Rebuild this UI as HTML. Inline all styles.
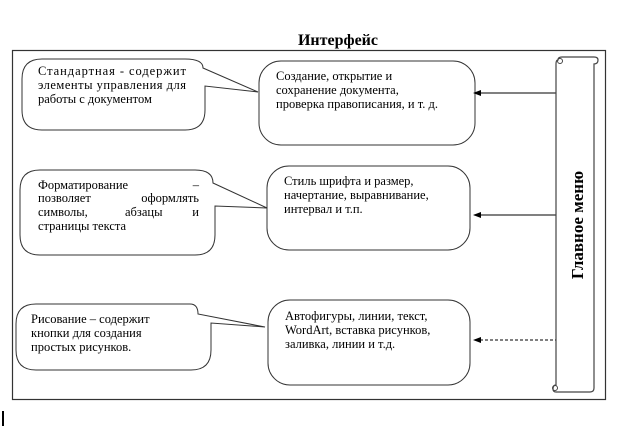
<!DOCTYPE html>
<html><head><meta charset="utf-8"><style>
html,body{margin:0;padding:0;background:#fff;}
svg{display:block;}
text{font-family:"Liberation Serif",serif;font-size:12.5px;fill:#000;}
</style></head><body>
<svg width="624" height="428" viewBox="0 0 624 428">
<defs><marker id="a" markerWidth="8" markerHeight="6" refX="7" refY="3" orient="auto" markerUnits="userSpaceOnUse"><path d="M8,3 L0,0 L0,6 Z" fill="#000"/></marker></defs>
<text x="338" y="45" text-anchor="middle" style="font-size:16px;font-weight:bold">Интерфейс</text>
<rect x="12.5" y="50.5" width="593" height="349" fill="none" stroke="#333" stroke-width="1.2"/>
<!-- callout 1 -->
<path d="M42,59 H185 Q203,59 203,68 L258,92 L205,86 V110 Q205,130 185,130 H42 Q22,130 22,110 V79 Q22,59 42,59 Z" fill="#fff" stroke="#333" stroke-width="1"/>
<text x="38" y="75" textLength="148" lengthAdjust="spacing">Стандартная  -  содержит</text>
<text x="38" y="89" textLength="148" lengthAdjust="spacing">элементы управления для</text>
<text x="38" y="103">работы с документом</text>
<!-- callout 2 -->
<path d="M40,170 H195 Q213,170 213,183 L267,208 L215,206 V235 Q215,255 195,255 H40 Q20,255 20,235 V190 Q20,170 40,170 Z" fill="#fff" stroke="#333" stroke-width="1"/>
<text x="38" y="189">Форматирование</text><text x="199" y="189" text-anchor="end">–</text>
<text x="38" y="202">позволяет</text><text x="199" y="202" text-anchor="end">оформлять</text>
<text x="38" y="216">символы,</text><text x="125" y="216">абзацы</text><text x="199" y="216" text-anchor="end">и</text>
<text x="38" y="230">страницы текста</text>
<!-- callout 3 -->
<path d="M36,304 H190 Q198,304 198,314 L265,327 L211,323 V350 Q211,370 191,370 H36 Q16,370 16,350 V324 Q16,304 36,304 Z" fill="#fff" stroke="#333" stroke-width="1"/>
<text x="31" y="323">Рисование – содержит</text>
<text x="31" y="337">кнопки для создания</text>
<text x="31" y="351">простых рисунков.</text>
<!-- boxes -->
<rect x="259" y="61" width="216" height="84" rx="22" fill="#fff" stroke="#333"/>
<text x="276" y="80">Создание, открытие и</text>
<text x="276" y="94">сохранение документа,</text>
<text x="276" y="108">проверка правописания, и т. д.</text>
<rect x="267" y="166" width="203" height="84" rx="22" fill="#fff" stroke="#333"/>
<text x="284" y="185">Стиль шрифта и размер,</text>
<text x="284" y="199">начертание, выравнивание,</text>
<text x="284" y="213">интервал и т.п.</text>
<rect x="268" y="300" width="202" height="85" rx="22" fill="#fff" stroke="#333"/>
<text x="285" y="320">Автофигуры, линии, текст,</text>
<text x="285" y="334">WordArt, вставка рисунков,</text>
<text x="285" y="348">заливка, линии и т.д.</text>
<!-- arrows -->
<line x1="556" y1="93" x2="474" y2="93" stroke="#000" marker-end="url(#a)"/>
<line x1="556" y1="215" x2="474" y2="215" stroke="#000" marker-end="url(#a)"/>
<line x1="558" y1="340" x2="474" y2="340" stroke="#000" stroke-dasharray="3,2" marker-end="url(#a)"/>
<!-- scroll -->
<path d="M558,60 Q558,57 562,57 H594 Q598,57 598,60 Q598,64 594,64 V388 Q594,392 590,392 H556 Q553,392 553,389 Q553,385 556,385 V64 Q556,60 558,60 Z" fill="#fff" stroke="#444" stroke-width="1.2"/>
<circle cx="560" cy="61" r="2.5" fill="none" stroke="#444"/>
<circle cx="555" cy="388" r="2.5" fill="none" stroke="#444"/>
<text transform="translate(583,225) rotate(-90)" text-anchor="middle" style="font-size:17px;font-weight:bold">Главное меню</text>
<rect x="2" y="411" width="2" height="15" fill="#000"/>
</svg>
</body></html>
